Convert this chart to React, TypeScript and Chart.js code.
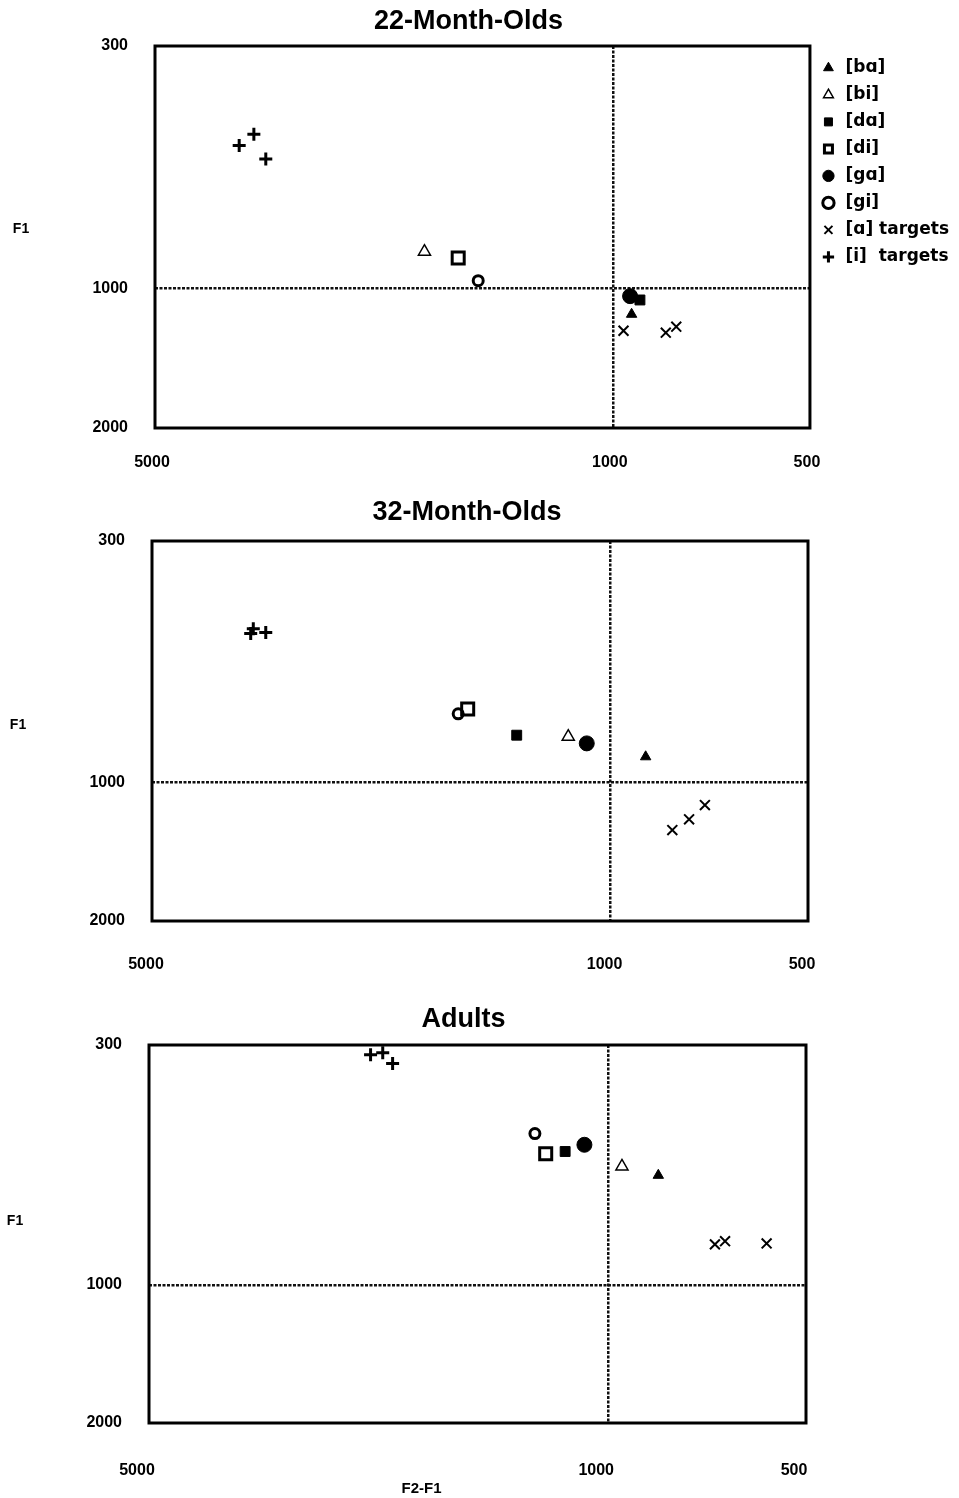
import React, { useEffect, useRef } from 'react';
import { Chart, registerables } from 'chart.js';

Chart.register(...registerables);

// ---------- text ----------
const seriesLabels = ['[bɑ]', '[bi]', '[dɑ]', '[di]', '[gɑ]', '[gi]', '[ɑ] targets', '[i]  targets'];
const panelTitles = ['22-Month-Olds', '32-Month-Olds', 'Adults'];
const yAxisLabel = 'F1';
const xAxisLabel = 'F2-F1';
const f2TickValues = [5000, 1000, 500];
const f1TickValues = [300, 1000, 2000];

// ---------- data (Hz) ----------
// syllables in order [bɑ], [bi], [dɑ], [di], [gɑ], [gi]
const m22SyllableF2 = [936, 1939, 909, 1722, 941, 1605];
const m22SyllableF1 = [1137, 833, 1059, 860, 1039, 962];
const m22TargetAF2 = [963, 830, 800];
const m22TargetAF1 = [1234, 1246, 1209];
const m22TargetIF2 = [3719, 3532, 3387];
const m22TargetIF1 = [492, 465, 526];

const m32SyllableF2 = [884, 1160, 1390, 1651, 1087, 1707];
const m32SyllableF1 = [881, 797, 791, 694, 824, 711];
const m32TargetAF2 = [805, 759, 718];
const m32TargetAF1 = [1270, 1204, 1121];
const m32TargetIF2 = [3536, 3504, 3354];
const m32TargetIF1 = [476, 465, 474];

const adultSyllableF2 = [839, 953, 1163, 1245, 1087, 1293];
const adultSyllableF1 = [577, 552, 512, 518, 495, 468];
const adultTargetAF2 = [688, 664, 574];
const adultTargetAF1 = [816, 803, 812];
const adultTargetIF2 = [2300, 2204, 2129];
const adultTargetIF1 = [315, 312, 329];

// ---------- styles ----------
const markerStyles = [
  { pointStyle: 'triangle', filled: true, radius: 6, borderWidth: 1 },
  { pointStyle: 'triangle', filled: false, radius: 7, borderWidth: 1.5 },
  { pointStyle: 'rect', filled: true, radius: 7, borderWidth: 1 },
  { pointStyle: 'rect', filled: false, radius: 8.5, borderWidth: 3 },
  { pointStyle: 'circle', filled: true, radius: 7.5, borderWidth: 1 },
  { pointStyle: 'circle', filled: false, radius: 5, borderWidth: 3 },
  { pointStyle: 'crossRot', filled: false, radius: 7, borderWidth: 2 },
  { pointStyle: 'cross', filled: false, radius: 6.5, borderWidth: 3 },
];

const panelLayouts = [
  { top: 0, height: 490, padTop: 46, xAxisHeight: 62, padRight: 0, yAxisWidth: 155, xTickPad: 25, xLabelShift: -3, titleDx: -14, titleDy: -24, f1Dy: -8, legend: true, xTitle: false },
  { top: 490, height: 500, padTop: 51, xAxisHeight: 69, padRight: 151, yAxisWidth: 152, xTickPad: 34, xLabelShift: -6, titleDx: -13, titleDy: -28, f1Dy: -6, legend: false, xTitle: false },
  { top: 990, height: 508, padTop: 55, xAxisHeight: 75, padRight: 153, yAxisWidth: 149, xTickPad: 38, xLabelShift: -12, titleDx: -14, titleDy: -25, f1Dy: -13, legend: false, xTitle: true },
];

const panelData = [
  { sf2: m22SyllableF2, sf1: m22SyllableF1, af2: m22TargetAF2, af1: m22TargetAF1, if2: m22TargetIF2, if1: m22TargetIF1 },
  { sf2: m32SyllableF2, sf1: m32SyllableF1, af2: m32TargetAF2, af1: m32TargetAF1, if2: m32TargetIF2, if1: m32TargetIF1 },
  { sf2: adultSyllableF2, sf1: adultSyllableF1, af2: adultTargetAF2, af1: adultTargetAF1, if2: adultTargetIF2, if1: adultTargetIF1 },
];

const SANS = '"Liberation Sans", Arial, sans-serif';

Chart.defaults.font.family = SANS;
Chart.defaults.color = '#000';

const framePlugin = {
  id: 'frameBox',
  afterDraw(chart: any) {
    const { ctx, chartArea } = chart;
    ctx.save();
    ctx.strokeStyle = '#000';
    ctx.lineWidth = 3;
    ctx.strokeRect(chartArea.left, chartArea.top, chartArea.right - chartArea.left, chartArea.bottom - chartArea.top);
    ctx.restore();
  },
};

const panelTextPlugin = {
  id: 'panelText',
  afterDraw(chart: any, _args: any, opts: any) {
    const { ctx, chartArea } = chart;
    const cx = (chartArea.left + chartArea.right) / 2;
    const cy = (chartArea.top + chartArea.bottom) / 2;
    ctx.save();
    ctx.fillStyle = '#000';
    ctx.textAlign = 'center';
    ctx.textBaseline = 'middle';
    ctx.font = `bold 27px ${SANS}`;
    ctx.fillText(opts.title, cx + opts.titleDx, chartArea.top + opts.titleDy);
    ctx.font = `bold 14px ${SANS}`;
    ctx.fillText(opts.yLabel, chartArea.left - 134, cy + opts.f1Dy);
    if (opts.xLabel) {
      ctx.font = `bold 15px ${SANS}`;
      ctx.fillText(opts.xLabel, cx - 56, chartArea.bottom + 66);
    }
    ctx.restore();
  },
};

function refLineColor(c: any) {
  return c.tick && c.tick.value === 1000 ? '#111' : 'rgba(0,0,0,0)';
}

function buildConfig(idx: number): any {
  const L = panelLayouts[idx];
  const D = panelData[idx];
  const seriesData: { x: number; y: number }[][] = [];
  for (let i = 0; i < 6; i++) seriesData.push([{ x: D.sf2[i], y: D.sf1[i] }]);
  seriesData.push(D.af2.map((x, i) => ({ x, y: D.af1[i] })));
  seriesData.push(D.if2.map((x, i) => ({ x, y: D.if1[i] })));

  const datasets = seriesData.map((data, i) => {
    const m = markerStyles[i];
    return {
      label: seriesLabels[i],
      data,
      pointStyle: m.pointStyle,
      pointRadius: m.radius,
      backgroundColor: m.filled ? '#000' : 'rgba(0,0,0,0)',
      borderColor: '#000',
      borderWidth: m.borderWidth,
      pointBorderWidth: m.borderWidth,
    };
  });

  const tickFont = { family: SANS, size: 16, weight: 'bold' as const };

  return {
    type: 'scatter',
    data: { datasets },
    plugins: [framePlugin, panelTextPlugin],
    options: {
      responsive: false,
      animation: false,
      events: [],
      layout: { padding: { top: L.padTop, bottom: 0, right: L.padRight, left: 0 } },
      scales: {
        x: {
          type: 'logarithmic',
          min: 500,
          max: 5000,
          reverse: true,
          afterBuildTicks: (s: any) => {
            s.ticks = f2TickValues.map((v) => ({ value: v }));
          },
          afterFit: (s: any) => {
            s.height = L.xAxisHeight;
          },
          ticks: {
            callback: (v: any) => String(v),
            font: tickFont,
            color: '#000',
            padding: L.xTickPad,
            labelOffset: L.xLabelShift,
            autoSkip: false,
            maxRotation: 0,
          },
          grid: { drawTicks: false, color: refLineColor, lineWidth: 2.5 },
          border: { display: false, dash: [3, 1.5] },
        },
        y: {
          type: 'logarithmic',
          min: 300,
          max: 2000,
          reverse: true,
          afterBuildTicks: (s: any) => {
            s.ticks = f1TickValues.map((v) => ({ value: v }));
          },
          afterFit: (s: any) => {
            s.width = L.yAxisWidth;
          },
          ticks: {
            callback: (v: any) => String(v),
            font: tickFont,
            color: '#000',
            padding: 27,
            autoSkip: false,
          },
          grid: { drawTicks: false, color: refLineColor, lineWidth: 2.5 },
          border: { display: false, dash: [3, 1.5] },
        },
      },
      plugins: {
        tooltip: { enabled: false },
        title: { display: false },
        legend: {
          display: L.legend,
          position: 'right',
          align: 'start',
          title: { display: true, text: '', font: { size: 2 }, padding: { top: 1, bottom: 0 } },
          labels: {
            usePointStyle: true,
            boxWidth: 17,
            boxHeight: 8,
            padding: 10,
            color: '#000',
            font: { family: '"DejaVu Sans", sans-serif', size: 17, weight: 'bold' },
          },
        },
        panelText: {
          title: panelTitles[idx],
          titleDx: L.titleDx,
          titleDy: L.titleDy,
          yLabel: yAxisLabel,
          f1Dy: L.f1Dy,
          xLabel: L.xTitle ? xAxisLabel : '',
        },
      },
    },
  };
}

function Panel({ idx }: { idx: number }) {
  const ref = useRef<HTMLCanvasElement>(null);
  const L = panelLayouts[idx];
  useEffect(() => {
    const chart = new Chart(ref.current as HTMLCanvasElement, buildConfig(idx));
    return () => chart.destroy();
  }, [idx]);
  return (
    <canvas
      ref={ref}
      width={959}
      height={L.height}
      style={{ position: 'absolute', left: 0, top: L.top, width: 959, height: L.height, display: 'block' }}
    />
  );
}

export default function App() {
  return (
    <div style={{ position: 'absolute', left: 0, top: 0, width: 959, height: 1498, background: '#fff', overflow: 'hidden' }}>
      <Panel idx={0} />
      <Panel idx={1} />
      <Panel idx={2} />
    </div>
  );
}
